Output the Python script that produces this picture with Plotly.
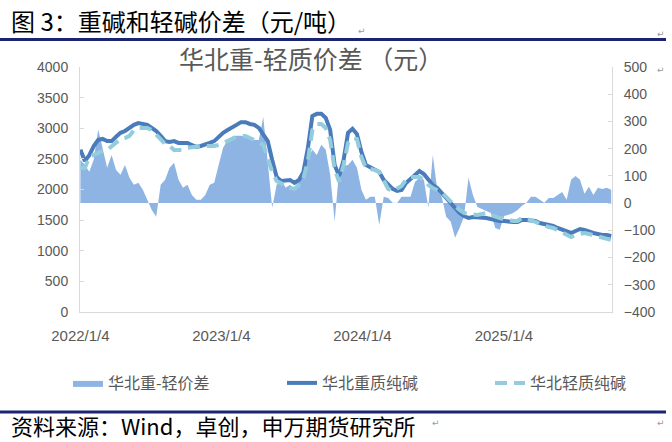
import pandas as pd
import plotly.graph_objects as go

# 华北重质 / 轻质纯碱 prices (元/吨) and the heavy-light spread (元)
heavy = [2650, 2465, 2560, 2710, 2810, 2825, 2790, 2790, 2860, 2925,
         2955, 3005, 3055, 3085, 3070, 3055, 3005, 2955, 2875, 2790,
         2775, 2790, 2760, 2760, 2760, 2727, 2695, 2710, 2727, 2760,
         2790, 2860, 2925, 2970, 3005, 3055, 3100, 3100, 3070, 3055,
         3005, 2905, 2790, 2482, 2205, 2140, 2156, 2156, 2107, 2156,
         2286, 2678, 3200, 3235, 3235, 3170, 2970, 2401, 2220, 2482,
         2925, 2990, 2905, 2614, 2401, 2368, 2335, 2286, 2156, 2074,
         2010, 1976, 1992, 2107, 2172, 2237, 2302, 2253, 2172, 2074,
         2025, 1943, 1861, 1780, 1682, 1617, 1568, 1535, 1551, 1551,
         1535, 1535, 1519, 1502, 1486, 1486, 1470, 1470, 1470, 1502,
         1502, 1502, 1486, 1453, 1437, 1421, 1404, 1372, 1339, 1306,
         1290, 1323, 1355, 1339, 1306, 1290, 1274, 1257, 1257, 1241]

light = [2350, 2350, 2530, 2565, 2600, 2630, 2645, 2710, 2760, 2825,
         2840, 2875, 2970, 3005, 3005, 3005, 2970, 2890, 2825, 2745,
         2710, 2646, 2646, 2646, 2680, 2695, 2710, 2710, 2710, 2710,
         2710, 2727, 2760, 2790, 2840, 2860, 2875, 2875, 2840, 2810,
         2775, 2727, 2515, 2290, 2140, 2107, 2058, 2025, 2010, 2074,
         2188, 2466, 2970, 3070, 3070, 3005, 2810, 2330, 2125, 2400,
         2760, 2840, 2825, 2530, 2350, 2335, 2320, 2286, 2156, 2010,
         1976, 2025, 2058, 2156, 2205, 2205, 2205, 2156, 2074, 2025,
         1992, 1960, 1878, 1796, 1731, 1666, 1617, 1600, 1584, 1584,
         1600, 1617, 1584, 1551, 1535, 1519, 1502, 1486, 1486, 1535,
         1519, 1502, 1470, 1437, 1404, 1388, 1372, 1339, 1306, 1257,
         1225, 1257, 1274, 1290, 1274, 1257, 1241, 1225, 1192, 1176]

spread = [159, 140, 115, 160, 270, 195, 130, 177, 122, 104,
          140, 93, 67, 75, 49, 12, -25, -50, 67, 86,
          130, 148, 86, 56, 67, 30, 12, 12, 30, 67,
          75, 140, 203, 232, 244, 247, 247, 244, 244, 232,
          232, 316, 159, -17, 67, 86, 56, 67, 49, 93,
          122, 159, 196, 177, 214, 196, 104, -68, 120, 137,
          140, 159, 130, 49, 12, 23, 23, -80, 23, 19,
          1, 0, 23, 23, 23, 78, 93, 86, -17, 177,
          49, 23, -50, -68, -127, -91, -50, 93, 30, -14,
          -21, -28, -36, -91, -98, -47, -43, -36, -25, -10,
          1, 23, 23, 12, 1, 19, 19, 30, 41, 12,
          86, 100, 86, 34, 60, 30, 56, 52, 56, 49]

dates = pd.date_range("2022-01-04", "2025-10-09", periods=len(heavy))

tick_dates = ["2022-01-04", "2023-01-04", "2024-01-04", "2025-01-04"]
tick_text = ["2022/1/4", "2023/1/4", "2024/1/4", "2025/1/4"]

GRAY = "#595959"
AXIS = "#D9D9D9"
NAVY = "#1B2470"
TICK_FONT = dict(family="Liberation Sans, Arial", size=14, color=GRAY)
CJK = "Noto Sans CJK SC"


def px_x(px):
    # pixel column -> paper x (plot area spans 80..612)
    return (px - 80) / 532


def px_y(py):
    # pixel row -> paper y (plot area spans 67..312)
    return (312 - py) / 245


fig = go.Figure()

# spread area on the primary axis (drawn underneath), shown on the right
fig.add_trace(go.Scatter(x=dates, y=spread, name="华北重-轻价差", mode="lines",
                         line=dict(width=0, color="#8EB4E3"),
                         fill="tozeroy", fillcolor="#8EB4E3", yaxis="y",
                         legend="legend"))
fig.add_trace(go.Scatter(x=dates, y=heavy, name="华北重质纯碱", mode="lines",
                         line=dict(width=4, color="#4A7CBC"), yaxis="y2",
                         legend="legend2"))
fig.add_trace(go.Scatter(x=dates, y=light, name="华北轻质纯碱", mode="lines",
                         line=dict(width=4, color="#93CDDD", dash="12px,7px"),
                         yaxis="y2", legend="legend3"))

legend_style = dict(orientation="h", xanchor="left", yanchor="middle", y=px_y(383),
                    font=dict(family=CJK, size=16, color=GRAY),
                    bgcolor="rgba(0,0,0,0)")

fig.update_layout(
    template=None,
    width=672, height=442,
    margin=dict(l=80, r=60, t=67, b=130),
    paper_bgcolor="white", plot_bgcolor="white",
    showlegend=True,
    xaxis=dict(type="date", range=["2022-01-03", "2025-10-11"],
               tickvals=tick_dates, ticktext=tick_text, automargin=False,
               showgrid=False, zeroline=False, showline=True,
               linecolor=AXIS, linewidth=1, ticks="",
               tickfont=dict(family="Liberation Sans, Arial", size=15, color=GRAY),
               ticklabelstandoff=10),
    yaxis=dict(side="right", range=[-400, 500], dtick=100, automargin=False,
               showgrid=False, zeroline=False, showline=True,
               linecolor=AXIS, linewidth=1, ticks="inside", ticklen=4,
               tickcolor=AXIS, tickfont=TICK_FONT, ticklabelstandoff=8),
    yaxis2=dict(side="left", overlaying="y", range=[0, 4000], dtick=500,
                automargin=False,
                showgrid=False, zeroline=False, showline=True,
                linecolor=AXIS, linewidth=1, ticks="inside", ticklen=4,
                tickcolor=AXIS, tickfont=TICK_FONT, ticklabelstandoff=8),
    legend=dict(legend_style, x=px_x(68)),
    legend2=dict(legend_style, x=px_x(282)),
    legend3=dict(legend_style, x=px_x(490)),
)

# title inside the chart
fig.add_annotation(text="华北重-轻质价差 （元）", xref="paper", yref="paper",
                   x=px_x(311), y=px_y(58), showarrow=False,
                   xanchor="center", yanchor="middle",
                   font=dict(family=CJK, size=25, color=GRAY))

# report header and footer
fig.add_annotation(text="图 3：重碱和轻碱价差（元/吨）", xref="paper", yref="paper",
                   x=px_x(9), y=px_y(21), showarrow=False,
                   xanchor="left", yanchor="middle",
                   font=dict(family=CJK, size=24, color="black"))
fig.add_annotation(text="资料来源：Wind，卓创，申万期货研究所", xref="paper", yref="paper",
                   x=px_x(9), y=px_y(425), showarrow=False,
                   xanchor="left", yanchor="middle",
                   font=dict(family=CJK, size=22, color="black"))
for px, py in [(362, 24), (667, 27), (667, 63), (442, 430), (667, 430)]:
    fig.add_annotation(text="↵", xref="paper", yref="paper",
                       x=px_x(px), y=px_y(py), showarrow=False,
                       font=dict(family="DejaVu Sans", size=9, color="#999999"))

for py in [39.5, 412]:
    fig.add_shape(type="line", xref="paper", yref="paper",
                  x0=px_x(0), x1=px_x(666), y0=px_y(py), y1=px_y(py),
                  line=dict(color=NAVY, width=3))

# the page body has a default 8px margin; drop it so the figure sits at 0,0
fig.write_html("out.html", config={"displayModeBar": False},
               post_script="document.body.style.margin='0';")
